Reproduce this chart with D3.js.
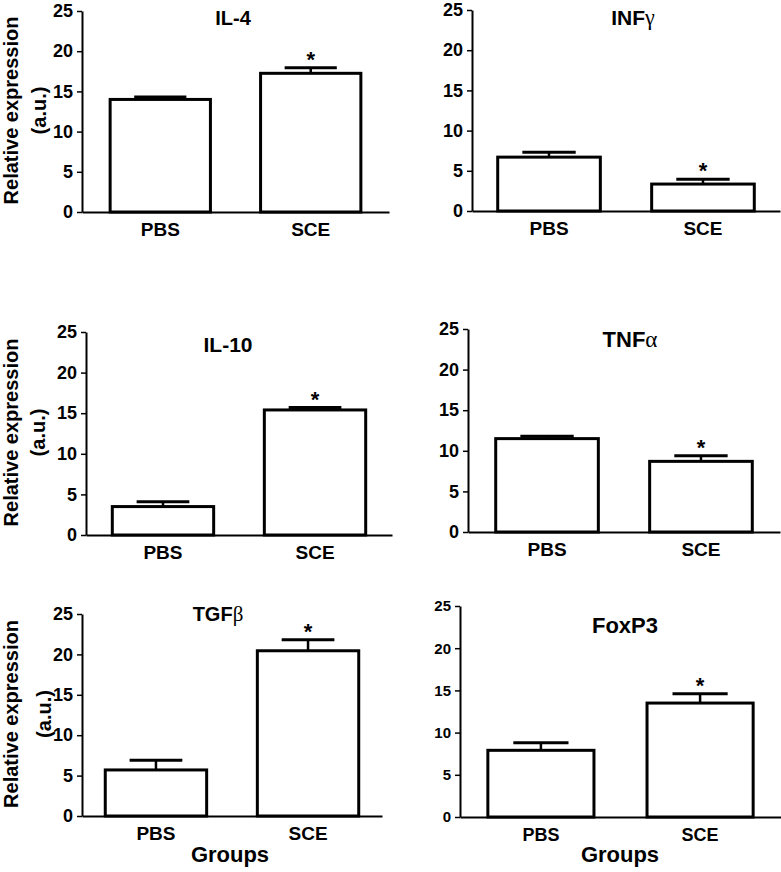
<!DOCTYPE html>
<html>
<head>
<meta charset="utf-8">
<script src="https://d3js.org/d3.v7.min.js"></script>
<style>
  html, body { margin: 0; padding: 0; background: #fff; }
  svg { display: block; }
  text { font-family: "Liberation Sans", Arial, sans-serif; font-weight: bold; fill: #000; }
</style>
</head>
<body>
<script>
// ---------------- data ----------------
const groups = ["PBS", "SCE"];
const titles = ["IL-4", "INFγ", "IL-10", "TNFα", "TGFβ", "FoxP3"];
const pbsMeans = [14.0, 6.7, 3.5, 11.5, 5.7, 7.9];
const pbsErrors = [0.3, 0.6, 0.6, 0.3, 1.2, 0.9];
const sceMeans = [17.25, 3.35, 15.4, 8.7, 20.45, 13.5];
const sceErrors = [0.7, 0.6, 0.3, 0.7, 1.35, 1.1];
const significant = [false, true]; // asterisk on SCE
const yTicks = [0, 5, 10, 15, 20, 25];
const yLabelLines = ["Relative expression", "(a.u.)"];
const xTitle = "Groups";

// ---------------- layout (positions only) ----------------
const layout = [
  { x0: 82,  x1: 389, yTop: 11,  yBot: 212, po: 0.187, tickFs: 18, catFs: 19, titleX: 233, titleY: 25,  titleFs: 20, yLab: true,  aux: 46 },
  { x0: 472, x1: 780, yTop: 10,  yBot: 211, po: 0.167, tickFs: 18, catFs: 19, titleX: 633, titleY: 25,  titleFs: 21, yLab: false },
  { x0: 86,  x1: 392, yTop: 332, yBot: 535, po: 0.173, tickFs: 18, catFs: 19, titleX: 228, titleY: 352, titleFs: 21, yLab: true,  aux: 45 },
  { x0: 468, x1: 780, yTop: 329, yBot: 532, po: 0.18,  tickFs: 18, catFs: 19, titleX: 630, titleY: 347, titleFs: 22, yLab: false },
  { x0: 82,  x1: 382, yTop: 614, yBot: 816, po: 0.153, tickFs: 18, catFs: 19, titleX: 218, titleY: 621, titleFs: 20, yLab: true,  aux: 51, groupsX: 230 },
  { x0: 460, x1: 781, yTop: 606, yBot: 817, po: 0.175, tickFs: 15, catFs: 18, titleX: 625, titleY: 633, titleFs: 22, yLab: false, groupsX: 620 }
];

const svg = d3.select("body").append("svg")
  .attr("width", 781).attr("height", 872);

layout.forEach((L, i) => {
  const y = d3.scaleLinear().domain([0, 25]).range([L.yBot, L.yTop]);
  const x = d3.scaleBand().domain(groups).range([L.x0, L.x1])
    .paddingInner(1 / 3).paddingOuter(L.po);
  const bw = x.bandwidth();
  const capW = bw * 0.52;

  const rows = groups.map((g, k) => ({
    g,
    mean: k === 0 ? pbsMeans[i] : sceMeans[i],
    err: k === 0 ? pbsErrors[i] : sceErrors[i],
    sig: significant[k]
  }));

  const g = svg.append("g");

  // error bars
  g.selectAll("line.err").data(rows).enter().append("line")
    .attr("x1", d => x(d.g) + bw / 2).attr("x2", d => x(d.g) + bw / 2)
    .attr("y1", d => y(d.mean)).attr("y2", d => y(d.mean + d.err))
    .attr("stroke", "#000").attr("stroke-width", 2.5);
  g.selectAll("line.cap").data(rows).enter().append("line")
    .attr("x1", d => x(d.g) + bw / 2 - capW / 2).attr("x2", d => x(d.g) + bw / 2 + capW / 2)
    .attr("y1", d => y(d.mean + d.err)).attr("y2", d => y(d.mean + d.err))
    .attr("stroke", "#000").attr("stroke-width", 3);

  // bars
  g.selectAll("rect").data(rows).enter().append("rect")
    .attr("x", d => x(d.g)).attr("width", bw)
    .attr("y", d => y(d.mean)).attr("height", d => L.yBot - y(d.mean))
    .attr("fill", "#fff").attr("stroke", "#000").attr("stroke-width", 3);

  // significance stars
  g.selectAll("text.star").data(rows.filter(d => d.sig)).enter().append("text")
    .attr("x", d => x(d.g) + bw / 2).attr("y", d => y(d.mean + d.err) - 1)
    .attr("text-anchor", "middle").attr("font-size", 22).text("*");

  // y axis
  const gy = svg.append("g").attr("transform", `translate(${L.x0},0)`)
    .call(d3.axisLeft(y).tickValues(yTicks).tickSize(5).tickSizeOuter(0).tickPadding(4));
  gy.select(".domain").attr("stroke", "#000").attr("stroke-width", 2);
  gy.selectAll(".tick line").attr("stroke", "#000").attr("stroke-width", 1.5);
  gy.selectAll(".tick text").attr("font-size", L.tickFs)
    .attr("font-family", '"Liberation Sans", Arial, sans-serif').attr("font-weight", "bold");

  // x axis
  const gx = svg.append("g").attr("transform", `translate(0,${L.yBot})`)
    .call(d3.axisBottom(x).tickSize(0).tickSizeOuter(0).tickPadding(11));
  gx.select(".domain").attr("stroke", "#000").attr("stroke-width", 2);
  gx.selectAll(".tick text").attr("font-size", L.catFs)
    .attr("font-family", '"Liberation Sans", Arial, sans-serif').attr("font-weight", "bold");

  // title (greek letter in lighter serif)
  const t = svg.append("text").attr("x", L.titleX).attr("y", L.titleY)
    .attr("text-anchor", "middle").attr("font-size", L.titleFs);
  const title = titles[i];
  const m = title.match(/^(.*?)([\u0370-\u03FF]*)$/);
  t.append("tspan").text(m[1]);
  if (m[2]) {
    t.append("tspan").attr("font-family", '"Liberation Serif", "DejaVu Serif", serif')
      .attr("font-weight", "normal").attr("font-size", L.titleFs * 1.05).text(m[2]);
  }

  // y label
  if (L.yLab) {
    const cy = (L.yTop + L.yBot) / 2 - 1;
    svg.append("text").attr("transform", `translate(18,${cy}) rotate(-90)`)
      .attr("text-anchor", "middle").attr("font-size", 20).text(yLabelLines[0]);
    svg.append("text").attr("transform", `translate(${L.aux},${cy}) rotate(-90)`)
      .attr("text-anchor", "middle").attr("font-size", 20).text(yLabelLines[1]);
  }

  // x title
  if (L.groupsX) {
    svg.append("text").attr("x", L.groupsX).attr("y", 862)
      .attr("text-anchor", "middle").attr("font-size", 22).text(xTitle);
  }
});
</script>
</body>
</html>
